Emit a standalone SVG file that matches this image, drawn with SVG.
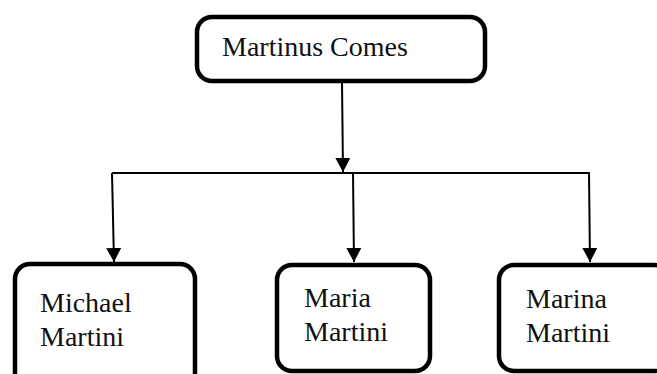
<svg xmlns="http://www.w3.org/2000/svg" width="657" height="374" viewBox="0 0 657 374">
<style>
.box{fill:#fff;stroke:#000;stroke-width:4.5}
.t{font-family:"Liberation Serif","Times New Roman",serif;font-size:28px;fill:#111}
.c{stroke:#000;stroke-width:2;fill:none}
</style>
<defs>
<marker id="ah" markerUnits="userSpaceOnUse" markerWidth="16" markerHeight="16" refX="14" refY="7.5" orient="auto" viewBox="0 0 16 16">
<path d="M0,0 L14,7.5 L0,15 Z" fill="#000"/>
</marker>
</defs>
<rect width="657" height="374" fill="#fff"/>
<g id="connectors">
<line class="c" x1="342" y1="82" x2="343" y2="172" marker-end="url(#ah)"/>
<line class="c" x1="112" y1="173" x2="590" y2="173"/>
<line class="c" x1="112" y1="173" x2="114" y2="262" marker-end="url(#ah)"/>
<line class="c" x1="353" y1="173" x2="354" y2="262" marker-end="url(#ah)"/>
<line class="c" x1="589" y1="173" x2="590" y2="262" marker-end="url(#ah)"/>
</g>
<g id="martinus">
<rect class="box" x="197" y="17" width="288" height="64" rx="15"/>
<text class="t" x="222" y="56">Martinus Comes</text>
</g>
<g id="michael">
<rect class="box" x="15" y="264" width="180" height="130" rx="15"/>
<text class="t" x="40" y="312">Michael</text>
<text class="t" x="40" y="346">Martini</text>
</g>
<g id="maria">
<rect class="box" x="277" y="265" width="153" height="106" rx="15"/>
<text class="t" x="304" y="307">Maria</text>
<text class="t" x="304" y="341">Martini</text>
</g>
<g id="marina">
<rect class="box" x="499" y="265" width="170" height="106" rx="15"/>
<text class="t" x="526" y="308">Marina</text>
<text class="t" x="526" y="342">Martini</text>
</g>
</svg>
